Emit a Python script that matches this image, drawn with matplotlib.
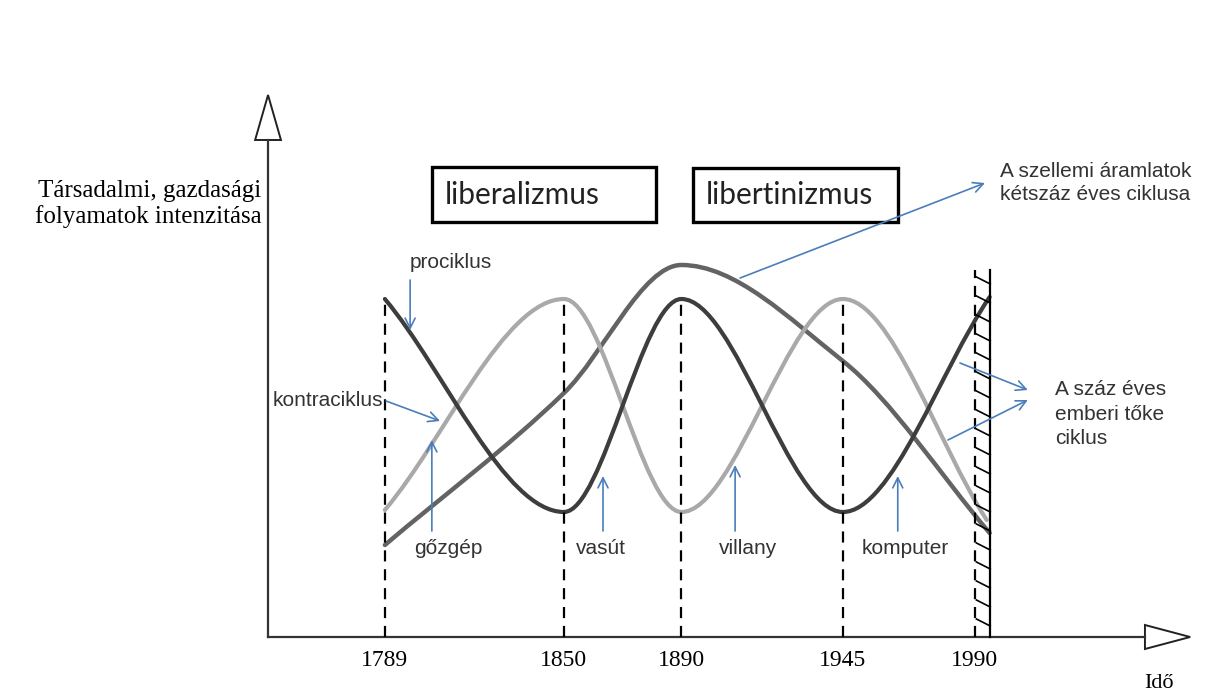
import matplotlib.pyplot as plt
from matplotlib.path import Path
from matplotlib.patches import PathPatch, Rectangle, Polygon
import numpy as np

# event years on the time axis
years = [1789, 1850, 1890, 1945, 1990]
year_labels = ['1789', '1850', '1890', '1945', '1990']
events = ['gőzgép', 'vasút', 'villany', 'komputer']

# turning points of the curves (year, intensity)
pro_x = [1789, 1850, 1890, 1945, 1995]
pro_y = [338, 125, 338, 125, 340]
kontra_x = [1789, 1850, 1890, 1945, 1994]
kontra_y = [127, 338, 125, 338, 117]
long_x = [1789, 1850, 1890, 1945, 1995]
long_y = [92, 244, 372, 276, 104]

BLUE = '#4a7ebb'


def smooth_path(xs, ys):
    # monotone cubic tangents, drawn as bezier segments
    xs = np.asarray(xs, float)
    ys = np.asarray(ys, float)
    h = np.diff(xs)
    d = np.diff(ys) / h
    m = np.zeros(len(xs))
    m[0] = d[0]
    m[-1] = d[-1]
    for k in range(1, len(xs) - 1):
        if d[k - 1] * d[k] > 0:
            m[k] = 3 * (h[k - 1] + h[k]) / ((2 * h[k] + h[k - 1]) / d[k - 1] + (h[k] + 2 * h[k - 1]) / d[k])
    verts = [(xs[0], ys[0])]
    codes = [Path.MOVETO]
    for k in range(len(xs) - 1):
        verts += [(xs[k] + h[k] / 3, ys[k] + m[k] * h[k] / 3),
                  (xs[k + 1] - h[k] / 3, ys[k + 1] - m[k + 1] * h[k] / 3),
                  (xs[k + 1], ys[k + 1])]
        codes += [Path.CURVE4] * 3
    return Path(verts, codes)


fig = plt.figure(figsize=(12.16, 6.93), dpi=100)
ax = fig.add_axes([0, 0, 1, 1])
ax.set_xlim(1657.9, 2072.1)
ax.set_ylim(-56, 637)
ax.axis('off')

# axes with open triangle heads
ax.plot([1749.2, 1749.2], [0, 497], color='#333333', lw=1.6)
ax.plot([1749.2, 2047.9], [0, 0], color='#333333', lw=1.6)
ax.add_patch(Polygon([[1744.8, 497], [1753.6, 497], [1749.2, 542]], closed=True,
                     fc='white', ec='#222222', lw=1.4))
ax.add_patch(Polygon([[2047.9, -12], [2047.9, 12], [2063.3, 0]], closed=True,
                     fc='white', ec='#222222', lw=1.4))

# dashed event lines
tops = [338, 338, 338, 338, 367]
for yr, top in zip(years, tops):
    ax.plot([yr, yr], [0, top], color='black', lw=1.6, ls=(0, (5, 3.5)))

# hatched wall after 1990
ax.plot([1995.2, 1995.2], [0, 367], color='black', lw=1.6)
for v in np.arange(360, 4, -19):
    ax.plot([1990.5, 1995.2], [v, v - 7], color='black', lw=1.2)

# the three cycles
ax.add_patch(PathPatch(smooth_path(long_x, long_y), fc='none', ec='#636363', lw=3.2,
                       capstyle='round'))
ax.add_patch(PathPatch(smooth_path(kontra_x, kontra_y), fc='none', ec='#a9a9a9', lw=3.0,
                       capstyle='round'))
ax.add_patch(PathPatch(smooth_path(pro_x, pro_y), fc='none', ec='#3d3d3d', lw=3.0,
                       capstyle='round'))

# year labels
for yr, lab in zip(years, year_labels):
    ax.text(yr, -24, lab, ha='center', va='center', fontsize=17, family='Liberation Serif')
ax.text(2052.7, -46, 'Idő', ha='center', va='center', fontsize=16, family='Liberation Serif')
ax.text(1747, 433, 'Társadalmi, gazdasági\nfolyamatok intenzitása', ha='right', va='center',
        fontsize=18, family='Liberation Serif', linespacing=1.2)

# era boxes
ax.add_patch(Rectangle((1805.2, 415), 76.2, 55, fc='none', ec='black', lw=2.4))
ax.add_patch(Rectangle((1893.9, 415), 69.8, 54, fc='none', ec='black', lw=2.4))
ax.text(1809.5, 442, 'liberalizmus', ha='left', va='center', fontsize=21.5, family='Lato',
        color='#222222')
ax.text(1898.4, 442, 'libertinizmus', ha='left', va='center', fontsize=21.5, family='Lato',
        color='#222222')

# annotations
lab = dict(fontsize=15, family='Liberation Sans', color='#333333')
arr = dict(arrowstyle='->', color=BLUE, lw=1.2, mutation_scale=18, shrinkA=0, shrinkB=0)

ax.text(1998.5, 454, 'A szellemi áramlatok\nkétszáz éves ciklusa', ha='left', va='center',
        linespacing=1.3, **lab)
ax.annotate('', xy=(1993.4, 454), xytext=(1910, 359), arrowprops=arr)

ax.text(2017.3, 223, 'A száz éves\nemberi tőke\nciklus', ha='left', va='center',
        linespacing=1.35, **lab)
ax.annotate('', xy=(2008, 247), xytext=(1984.9, 274), arrowprops=arr)
ax.annotate('', xy=(2008, 237), xytext=(1980.8, 197), arrowprops=arr)

ax.text(1797.6, 375, 'prociklus', ha='left', va='center', **lab)
ax.annotate('', xy=(1797.6, 307), xytext=(1797.6, 357), arrowprops=arr)
ax.text(1750.6, 237, 'kontraciklus', ha='left', va='center', **lab)
ax.annotate('', xy=(1807.8, 216), xytext=(1789.4, 236), arrowprops=arr)

ev_x = [1810.5, 1862.6, 1912.7, 1966.2]
ev_arrow_x = [1805.0, 1863.3, 1908.3, 1963.7]
ev_tip = [197, 161, 172, 161]
for name, tx, axx, tip in zip(events, ev_x, ev_arrow_x, ev_tip):
    ax.text(tx, 89, name, ha='center', va='center', **lab)
    ax.annotate('', xy=(axx, tip), xytext=(axx, 106), arrowprops=arr)

fig.savefig('out.png', dpi=100)
